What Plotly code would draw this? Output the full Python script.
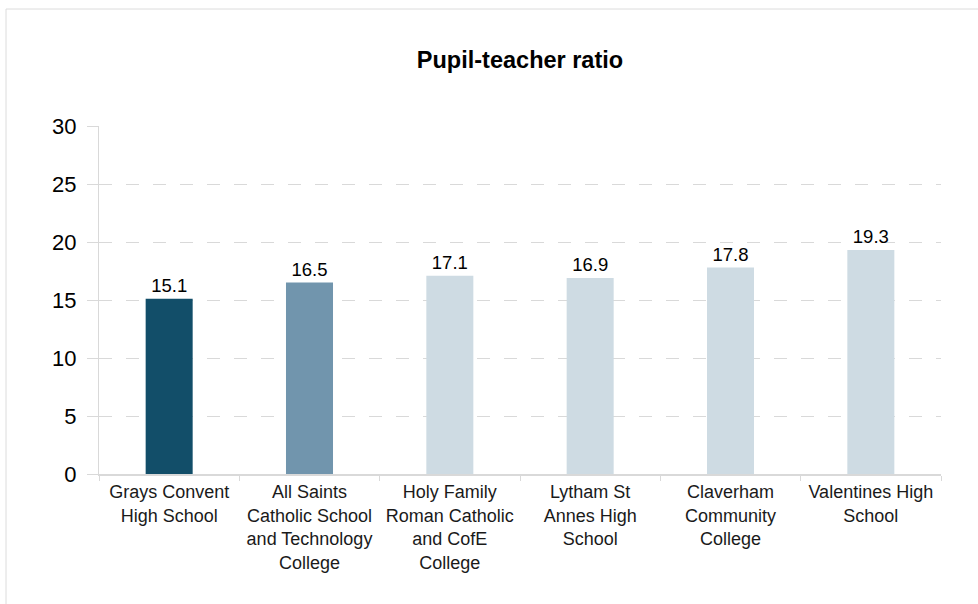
import plotly.graph_objects as go

categories = [
    "Grays Convent<br>High School",
    "All Saints<br>Catholic School<br>and Technology<br>College",
    "Holy Family<br>Roman Catholic<br>and CofE<br>College",
    "Lytham St<br>Annes High<br>School",
    "Claverham<br>Community<br>College",
    "Valentines High<br>School",
]
values = [15.1, 16.5, 17.1, 16.9, 17.8, 19.3]
bar_colors = ["#124e69", "#7195ad", "#cedbe3", "#cedbe3", "#cedbe3", "#cedbe3"]
y_ticks = [0, 5, 10, 15, 20, 25, 30]

FONT = "Liberation Sans, Arial, sans-serif"
GRID = "#d9d9d9"

fig = go.Figure(
    go.Bar(
        x=categories,
        y=values,
        marker=dict(color=bar_colors, line=dict(width=0)),
        width=0.335,
        text=[f"{v:.1f}" for v in values],
        textposition="outside",
        textfont=dict(family=FONT, size=18.5, color="#000000"),
        cliponaxis=False,
        hoverinfo="x+y",
    )
)

fig.update_layout(
    width=978,
    height=604,
    margin=dict(l=99, r=37, t=126, b=130),
    paper_bgcolor="white",
    plot_bgcolor="white",
    showlegend=False,
    font=dict(family=FONT, color="#000000"),
    title=dict(
        text="<b>Pupil-teacher ratio</b>",
        x=0.5,
        xref="paper",
        xanchor="center",
        y=1 - 60 / 604,
        yref="container",
        yanchor="middle",
        font=dict(family=FONT, size=23.5, color="#000000"),
    ),
    xaxis=dict(
        type="category",
        range=[-0.5, 5.5],
        tickson="boundaries",
        ticks="outside",
        ticklen=5,
        tickcolor=GRID,
        showline=True,
        linecolor=GRID,
        linewidth=1.5,
        showgrid=False,
        tickfont=dict(family=FONT, size=18, color="#1a1a1a"),
        ticklabelstandoff=1,
    ),
    yaxis=dict(
        range=[0, 30],
        tickvals=y_ticks,
        ticks="outside",
        ticklen=11,
        tickcolor=GRID,
        showline=True,
        linecolor=GRID,
        linewidth=1,
        showgrid=True,
        gridcolor=GRID,
        griddash="13px,14px",
        gridwidth=1,
        zeroline=False,
        tickfont=dict(family=FONT, size=22, color="#000000"),
        ticklabelstandoff=6,
    ),
    shapes=[
        dict(
            type="rect",
            xref="paper",
            yref="paper",
            x0=(6 - 99) / 842,
            x1=(1010 - 99) / 842,
            y0=(474 - 640) / 348,
            y1=(474 - 9) / 348,
            line=dict(color="#dcdcdc", width=1),
            fillcolor="rgba(0,0,0,0)",
            layer="below",
        )
    ],
)

fig.write_html(
    "out.html",
    config={"displayModeBar": False},
    post_script="document.body.style.margin='0';document.body.style.overflow='hidden';",
)
